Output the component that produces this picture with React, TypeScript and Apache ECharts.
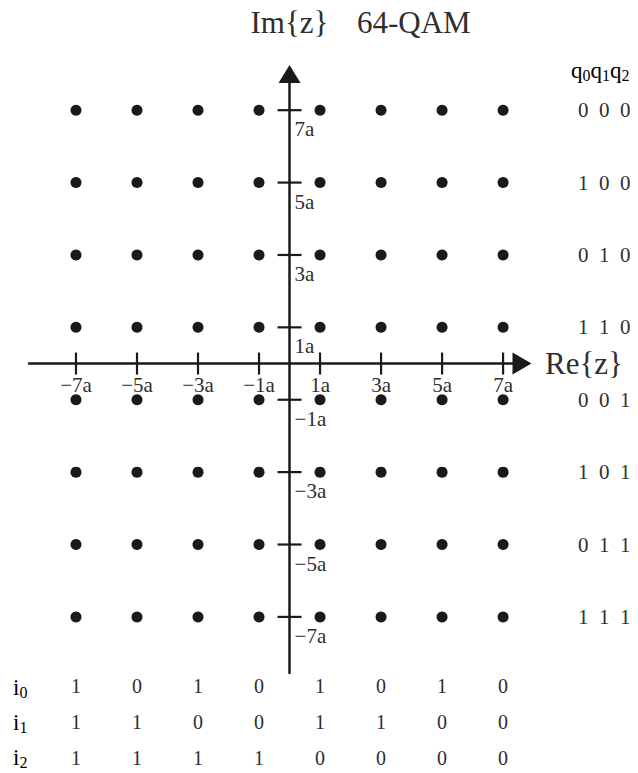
import React, { useEffect, useRef } from 'react';
import * as echarts from 'echarts';

// In-phase / quadrature amplitude levels (in units of a)
const reLevels = [-7, -5, -3, -1, 1, 3, 5, 7];
const imLevels = [7, 5, 3, 1, -1, -3, -5, -7];
const reTickLabels = ['−7a', '−5a', '−3a', '−1a', '1a', '3a', '5a', '7a'];
const imTickLabels = ['7a', '5a', '3a', '1a', '−1a', '−3a', '−5a', '−7a'];
// Quadrature bits q0q1q2 for each row (top to bottom, matching imLevels)
const qBits = ['0  0  0', '1  0  0', '0  1  0', '1  1  0', '0  0  1', '1  0  1', '0  1  1', '1  1  1'];
// In-phase bits for each column (left to right, matching reLevels)
const i0Bits = [1, 0, 1, 0, 1, 0, 1, 0];
const i1Bits = [1, 1, 0, 0, 1, 1, 0, 0];
const i2Bits = [1, 1, 1, 1, 0, 0, 0, 0];
const chartTitle = '64-QAM';
const reAxisName = 'Re{z}';
const imAxisName = 'Im{z}';

const FONT = "'Liberation Serif', 'Times New Roman', serif";
const TEXT = '#2e2e2e';
const INK = '#1a1a1a';

export default function App() {
  const ref = useRef<HTMLDivElement>(null);
  useEffect(() => {
    if (!ref.current) return;
    const chart = echarts.init(ref.current, undefined, { renderer: 'svg' });
    const points: number[][] = [];
    imLevels.forEach((im) => reLevels.forEach((re) => points.push([re, im])));
    const xMin = -8.54, xMax = 7.62, yMin = -8.55, yMax = 8;
    const bitAxis = (bits: number[], off: number) => ({
      type: 'value', min: xMin, max: xMax, position: 'bottom', offset: off,
      axisLine: { show: false, onZero: false }, axisTick: { show: false }, splitLine: { show: false },
      axisLabel: {
        customValues: reLevels, margin: 13, verticalAlign: 'middle',
        formatter: (v: number) => String(bits[reLevels.indexOf(Math.round(v))]),
        color: TEXT, fontSize: 20, fontFamily: FONT,
      },
    });
    const sub = (ch: string, n: string) => `{b|${ch}}{s|${n}}`;
    const rich = {
      b: { fontSize: 23, fontFamily: FONT, color: TEXT, lineHeight: 23 },
      s: { fontSize: 16, fontFamily: FONT, color: TEXT, lineHeight: 16, padding: [11, 0, 0, 0] },
    };
    chart.setOption({
      animation: false,
      backgroundColor: '#ffffff',
      title: {
        text: chartTitle, left: 357, top: 7, padding: 0,
        textStyle: { fontSize: 31, fontWeight: 'normal', fontFamily: FONT, color: TEXT },
      },
      grid: { left: 29, top: 74, width: 493, height: 599 },
      xAxis: [
        {
          type: 'value', min: xMin, max: xMax,
          name: reAxisName, nameLocation: 'end', nameGap: 23,
          nameTextStyle: { fontSize: 31, fontFamily: FONT, color: TEXT, verticalAlign: 'middle' },
          axisLine: { onZero: true, symbol: ['none', 'triangle'], symbolSize: [22, 19], lineStyle: { color: INK, width: 2.5 } },
          axisTick: { show: false }, splitLine: { show: false }, axisLabel: { show: false },
        },
        bitAxis(i0Bits, 0),
        bitAxis(i1Bits, 36),
        bitAxis(i2Bits, 72),
      ],
      yAxis: [
        {
          type: 'value', min: yMin, max: yMax,
          name: imAxisName, nameLocation: 'end', nameGap: 36,
          nameTextStyle: { fontSize: 31, fontFamily: FONT, color: TEXT },
          axisLine: { onZero: true, symbol: ['none', 'triangle'], symbolSize: [22, 18], lineStyle: { color: INK, width: 2.5 } },
          axisTick: { show: false }, splitLine: { show: false }, axisLabel: { show: false },
        },
        {
          type: 'value', min: yMin, max: yMax, position: 'right',
          axisLine: { show: false, onZero: false }, axisTick: { show: false }, splitLine: { show: false },
          axisLabel: {
            customValues: imLevels, margin: 56, align: 'left',
            formatter: (v: number) => qBits[imLevels.indexOf(Math.round(v))],
            color: TEXT, fontSize: 21, fontFamily: FONT,
          },
        },
      ],
      graphic: [
        { type: 'text', x: 571, y: 70, style: { text: sub('q', '0') + sub('q', '1') + sub('q', '2'), rich, verticalAlign: 'middle' } },
        { type: 'text', x: 13, y: 687, style: { text: sub('i', '0'), rich, verticalAlign: 'middle' } },
        { type: 'text', x: 13, y: 722, style: { text: sub('i', '1'), rich, verticalAlign: 'middle' } },
        { type: 'text', x: 13, y: 757, style: { text: sub('i', '2'), rich, verticalAlign: 'middle' } },
      ],
      series: [
        {
          type: 'scatter', data: points, symbolSize: 11,
          itemStyle: { color: INK, opacity: 1 },
        },
        {
          type: 'scatter', data: reLevels.map((v) => [v, 0]), symbol: 'rect', symbolSize: [2.2, 22],
          itemStyle: { color: INK, opacity: 1 },
          label: {
            show: true, position: 'bottom', distance: 0,
            formatter: (p: any) => reTickLabels[p.dataIndex],
            color: TEXT, fontSize: 21, fontFamily: FONT,
          },
        },
        {
          type: 'scatter', data: imLevels.map((v) => [0, v]), symbol: 'rect', symbolSize: [24, 2.2],
          itemStyle: { color: INK, opacity: 1 },
          label: {
            show: true, position: 'right', distance: 0, offset: [-7, 19],
            formatter: (p: any) => imTickLabels[p.dataIndex],
            color: TEXT, fontSize: 21, fontFamily: FONT,
          },
        },
      ],
    });
    return () => chart.dispose();
  }, []);
  return <div ref={ref} style={{ position: 'fixed', left: 0, top: 0, width: 638, height: 773 }} />;
}
